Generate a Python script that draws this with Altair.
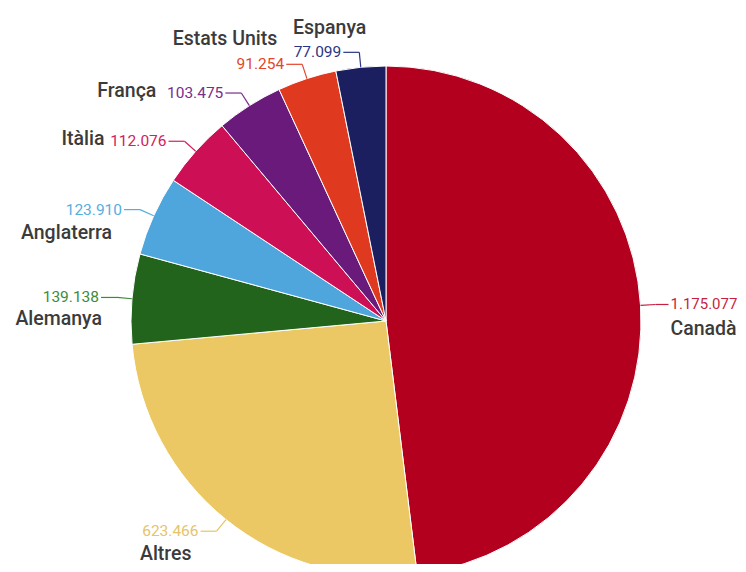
import altair as alt
import pandas as pd

# ---- data ----
categories = ["Canadà", "Altres", "Alemanya", "Anglaterra", "Itàlia", "França", "Estats Units", "Espanya"]
values = [1175077, 623466, 139138, 123910, 112076, 103475, 91254, 77099]
value_labels = ["1.175.077", "623.466", "139.138", "123.910", "112.076", "103.475", "91.254", "77.099"]

# ---- style / layout ----
colors = ["#b3001e", "#ecc865", "#22641b", "#4ea6dc", "#cd0f55", "#6a1a7a", "#df3a1f", "#1b1f5f"]
text_colors = ["#c61f3f", "#e6c46a", "#3d8b36", "#55aee0", "#d4205e", "#7b2d8a", "#e5452a", "#2b3585"]
name_dx = [0, -7, 3, -10, -62, -67, -7, 25]
name_dy = [25, 23, 22, 23, -2, -2, -25, -24]
CX, CY, R = 378, 313, 255
RADIAL, HORIZ_L, HORIZ_R, GAP = 15, 16, 13, 2
W, H = 730, 556

df = pd.DataFrame({
    "cat": categories,
    "value": values,
    "label": value_labels,
    "ord": list(range(len(categories))),
    "ndx": name_dx,
    "ndy": name_dy,
    "tcol": text_colors,
})

color = alt.Color("cat:N", scale=alt.Scale(domain=categories, range=colors), legend=None)
tcolor = alt.Color("tcol:N", scale=None, legend=None)

base = alt.Chart(df).transform_joinaggregate(
    total="sum(value)"
).transform_window(
    cum="sum(value)", sort=[alt.SortField("ord")], frame=[None, 0]
).transform_calculate(
    mid="(datum.cum - datum.value/2) / datum.total * 2 * PI",
).transform_calculate(
    ex=f"{CX} + {R}*sin(datum.mid)",
    ey=f"{CY} - {R}*cos(datum.mid)",
    bx=f"{CX} + {R + RADIAL}*sin(datum.mid)",
    by=f"{CY} - {R + RADIAL}*cos(datum.mid)",
    side="sin(datum.mid) >= 0 ? 1 : -1",
).transform_calculate(
    hx=f"datum.bx + (datum.side > 0 ? {HORIZ_R} : -{HORIZ_L})",
).transform_calculate(
    tx=f"datum.hx + datum.side*{GAP}",
).transform_calculate(
    nx="datum.tx + datum.ndx",
    ny="datum.by + datum.ndy",
)

pie = alt.Chart(df).mark_arc(radius=R, stroke="white", strokeWidth=1).encode(
    theta=alt.Theta("value:Q", stack=True),
    order=alt.Order("ord:Q"),
    color=color,
    x=alt.value(CX),
    y=alt.value(CY),
)

def px(f):
    return alt.X(f"{f}:Q", scale=None, axis=None)

def py(f):
    return alt.Y(f"{f}:Q", scale=None, axis=None)

seg1 = base.mark_rule(strokeWidth=1.2).encode(
    x=px("ex"), y=py("ey"), x2="bx:Q", y2="by:Q", color=tcolor
)
seg2 = base.mark_rule(strokeWidth=1.2).encode(
    x=px("bx"), y=py("by"), x2="hx:Q", y2="by:Q", color=tcolor
)

val_right = base.transform_filter("datum.side > 0").mark_text(
    align="left", baseline="middle", font="Roboto", fontSize=15
).encode(x=px("tx"), y=py("by"), text="label:N", color=tcolor)

val_left = base.transform_filter("datum.side < 0").mark_text(
    align="right", baseline="middle", font="Roboto", fontSize=15.5
).encode(x=px("tx"), y=py("by"), text="label:N", color=tcolor)

name_right = base.transform_filter("datum.side > 0").mark_text(
    align="left", baseline="middle", font="Roboto", fontSize=19.5, fontWeight=500, color="#3b3b3b"
).encode(x=px("nx"), y=py("ny"), text="cat:N")

name_left = base.transform_filter("datum.side < 0").mark_text(
    align="right", baseline="middle", font="Roboto", fontSize=19.5, fontWeight=500, color="#3b3b3b"
).encode(x=px("nx"), y=py("ny"), text="cat:N")

chart = alt.layer(pie, seg1, seg2, val_right, val_left, name_right, name_left).properties(
    width=W, height=H, autosize=alt.AutoSizeParams(type="none"), padding=0, background="white"
).configure_view(strokeWidth=0)

chart.save("out.html", embed_options={"renderer": "svg", "actions": False})
